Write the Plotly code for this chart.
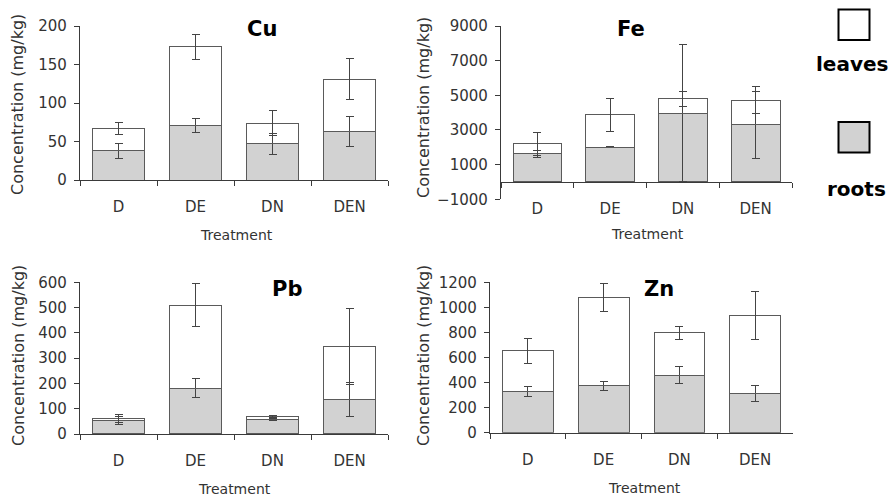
import plotly.graph_objects as go

W, H = 892, 496

treatments = ["D", "DE", "DN", "DEN"]

# Mean concentrations (mg/kg) per treatment; leaves are stacked on top of roots
cu_roots = [38, 71, 47, 63]
cu_roots_err = [10, 9, 14, 20]
cu_leaves = [29, 102, 27, 68]
cu_leaves_err = [7.5, 16, 16, 27]

fe_roots = [1615, 2000, 3960, 3290]
fe_roots_err = [180, 30, 3960, 1950]
fe_leaves = [577, 1880, 830, 1440]
fe_leaves_err = [650, 950, 430, 790]

pb_roots = [52, 181, 59, 135]
pb_roots_err = [16, 38, 6, 67]
pb_leaves = [10, 329, 9, 211]
pb_leaves_err = [16, 84, 6, 149]

zn_roots = [327, 375, 458, 314]
zn_roots_err = [40, 37, 67, 62]
zn_leaves = [325, 703, 338, 620]
zn_leaves_err = [102, 113, 52, 190]

AX = "#3a3a3a"
TXT = "#333333"
ROOT_FILL = "#d2d2d2"
EDGE = "#5a5a5a"

fig = go.Figure()

panels = [
    # name, roots, roots_err, leaves, leaves_err, axis suffix
    ("Cu", cu_roots, cu_roots_err, cu_leaves, cu_leaves_err, ""),
    ("Fe", fe_roots, fe_roots_err, fe_leaves, fe_leaves_err, "2"),
    ("Pb", pb_roots, pb_roots_err, pb_leaves, pb_leaves_err, "3"),
    ("Zn", zn_roots, zn_roots_err, zn_leaves, zn_leaves_err, "4"),
]

for name, r, re, l, le, s in panels:
    err_style = dict(type="data", visible=True, color="#444444", thickness=1, width=4)
    fig.add_trace(go.Bar(
        x=treatments, y=r, name="roots", xaxis="x" + s, yaxis="y" + s,
        marker=dict(color=ROOT_FILL, line=dict(color=EDGE, width=1)),
        error_y=dict(array=re, **err_style), showlegend=False,
    ))
    fig.add_trace(go.Bar(
        x=treatments, y=l, name="leaves", xaxis="x" + s, yaxis="y" + s,
        marker=dict(color="rgba(255,255,255,0)", line=dict(color=EDGE, width=1)),
        error_y=dict(array=le, **err_style), showlegend=False,
    ))


def px_x(v):
    return v / W


def px_y(v):
    return 1 - v / H


tickfont = dict(family="DejaVu Sans", size=15, color=TXT)


def xaxis(x0, x1, anchor, position=None):
    d = dict(
        domain=[px_x(x0), px_x(x1)], type="category", range=[-0.5, 3.5],
        categoryorder="array", categoryarray=treatments,
        showline=True, linecolor=AX, linewidth=1.3,
        ticks="outside", tickson="boundaries", ticklen=5, tickcolor=AX,
        tickfont=tickfont, ticklabelstandoff=13, showgrid=False, zeroline=False,
        fixedrange=True, automargin=False,
    )
    if position is None:
        d["anchor"] = anchor
    else:
        d["anchor"] = "free"
        d["position"] = position
    return d


def yaxis(top, bottom, rng, dtick, tick0, anchor):
    return dict(
        domain=[px_y(bottom), px_y(top)], range=rng, dtick=dtick, tick0=tick0,
        anchor=anchor, showline=True, linecolor=AX, linewidth=1.3,
        ticks="outside", ticklen=5, tickcolor=AX, tickfont=tickfont,
        ticklabelstandoff=4, showgrid=False, zeroline=False, fixedrange=True,
        automargin=False,
    )


fe_zero_y = 182

fig.update_layout(
    width=W, height=H, margin=dict(l=0, r=0, t=0, b=0, pad=0, autoexpand=False),
    paper_bgcolor="white", plot_bgcolor="white",
    barmode="stack", bargap=0.33, showlegend=False,
    xaxis=xaxis(80, 388, "y"),
    yaxis=yaxis(26, 180, [0, 200], 50, 0, "x"),
    xaxis2=xaxis(501, 792, "y2", position=px_y(fe_zero_y)),
    yaxis2=yaxis(26, 199.3, [-1000, 9000], 2000, -1000, "x2"),
    xaxis3=xaxis(80, 388, "y3"),
    yaxis3=yaxis(282.3, 434, [0, 600], 100, 0, "x3"),
    xaxis4=xaxis(490, 793, "y4"),
    yaxis4=yaxis(282.3, 432.7, [0, 1200], 200, 0, "x4"),
)

annotations = []
# panel titles
for txt, cx, cy in [("Cu", 262, 29), ("Fe", 631, 29), ("Pb", 287, 289), ("Zn", 659, 289)]:
    annotations.append(dict(
        text=txt, x=px_x(cx), y=px_y(cy), xref="paper", yref="paper",
        xanchor="center", yanchor="middle", showarrow=False,
        font=dict(family="DejaVu Sans", size=21, color="black", weight="bold"),
    ))
# x-axis titles
for cx, cy in [(236, 235), (647, 234), (235, 489), (644, 488)]:
    annotations.append(dict(
        text="Treatment", x=px_x(cx), y=px_y(cy), xref="paper", yref="paper",
        xanchor="center", yanchor="middle", showarrow=False,
        font=dict(family="DejaVu Sans", size=14, color=TXT),
    ))
# y-axis titles
for cx, cy in [(18, 105), (423, 108), (18, 356), (423, 356)]:
    annotations.append(dict(
        text="Concentration (mg/kg)", x=px_x(cx), y=px_y(cy), xref="paper", yref="paper",
        xanchor="center", yanchor="middle", textangle=-90, showarrow=False,
        font=dict(family="DejaVu Sans", size=16, color=TXT),
    ))
# legend labels
for txt, cx, cy in [("leaves", 852, 64), ("roots", 856, 189)]:
    annotations.append(dict(
        text=txt, x=px_x(cx), y=px_y(cy), xref="paper", yref="paper",
        xanchor="center", yanchor="middle", showarrow=False,
        font=dict(family="DejaVu Sans", size=20, color="black", weight="bold"),
    ))
fig.update_layout(annotations=annotations)

# legend swatches
shapes = []
for fill, y0, y1 in [("white", 9.5, 40), (ROOT_FILL, 122, 152.5)]:
    shapes.append(dict(
        type="rect", xref="paper", yref="paper",
        x0=px_x(838.5), x1=px_x(869.5), y0=px_y(y1), y1=px_y(y0),
        fillcolor=fill, line=dict(color="black", width=2),
    ))
fig.update_layout(shapes=shapes)

fig.write_html("out.html")
